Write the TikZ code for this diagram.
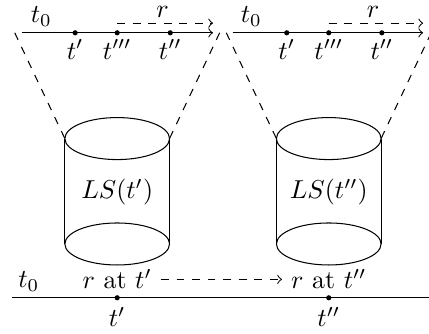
\documentclass[tikz,border=0pt]{standalone}
\begin{document}
\begin{tikzpicture}[
    dot/.style={circle,fill,inner sep=0pt,minimum size=2pt},
    cone/.style={dashed}
]
\useasboundingbox (0,0) rectangle (5.82,4.53);

% left time line
\coordinate (LA) at (0.30,4.085);
\coordinate (LB) at (2.89,4.085);
\node[dot] (L1) at (1.02,4.085) {};
\node[dot] (L3) at (1.59,4.085) {};
\node[dot] (L2) at (2.31,4.085) {};
\coordinate (LR) at (2.89,4.216);
\draw[->] (LA) -- (LB);
\draw[dashed,->] (L3 |- LR) -- (LR);
\node (Lt0) at (0.56,4.31) {$t_0$};
\node (Lr)  at (2.205,4.37) {$r$};
\node at (1.02,3.86) {$t'$};
\node at (1.59,3.86) {$t'''$};
\node at (2.31,3.86) {$t''$};

% right time line
\coordinate (RA) at (3.16,4.085);
\coordinate (RB) at (5.74,4.085);
\node[dot] (R1) at (3.89,4.085) {};
\node[dot] (R3) at (4.46,4.085) {};
\node[dot] (R2) at (5.18,4.085) {};
\coordinate (RR) at (5.74,4.216);
\draw[->] (RA) -- (RB);
\draw[dashed,->] (R3 |- RR) -- (RR);
\node (Rt0) at (3.41,4.31) {$t_0$};
\node (Rr)  at (5.06,4.37) {$r$};
\node at (3.89,3.86) {$t'$};
\node at (4.46,3.86) {$t'''$};
\node at (5.18,3.86) {$t''$};

% left store
\draw (1.59,2.65) ellipse (0.71 and 0.285);
\draw (1.59,1.22) ellipse (0.71 and 0.285);
\coordinate (LTl) at (0.88,2.65);
\coordinate (LTr) at (2.30,2.65);
\draw (LTl) -- (0.88,1.22);
\draw (LTr) -- (2.30,1.22);
\node (LS1) at (1.59,1.92) {$LS(t')$};
\draw[cone] (0.20,4.085) -- (LTl);
\draw[cone] (2.98,4.085) -- (LTr);

% right store
\draw (4.46,2.65) ellipse (0.71 and 0.285);
\draw (4.46,1.22) ellipse (0.71 and 0.285);
\coordinate (RTl) at (3.75,2.65);
\coordinate (RTr) at (5.17,2.65);
\draw (RTl) -- (3.75,1.22);
\draw (RTr) -- (5.17,1.22);
\node (LS2) at (4.46,1.92) {$LS(t'')$};
\draw[cone] (3.07,4.085) -- (RTl);
\draw[cone] (5.85,4.085) -- (RTr);

% bottom time line
\draw (0.16,0.49) -- (5.82,0.49);
\node[dot] (B1) at (1.59,0.49) {};
\node[dot] (B2) at (4.46,0.49) {};
\node (Bt0) at (0.39,0.71) {$t_0$};
\node (Ra) at (1.59,0.74) {$r$ at $t'$};
\node (Rb) at (4.46,0.74) {$r$ at $t''$};
\draw[dashed,->] (Ra) -- (Rb);
\node at (1.59,0.23) {$t'$};
\node at (4.46,0.23) {$t''$};
\end{tikzpicture}
\end{document}
